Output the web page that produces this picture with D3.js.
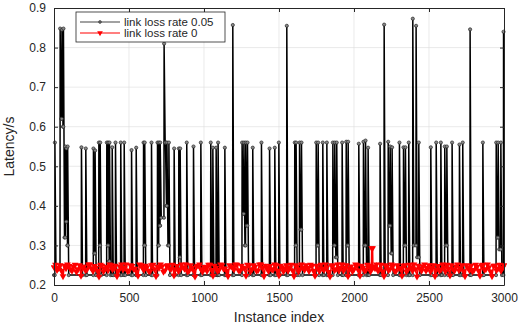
<!DOCTYPE html>
<html>
<head>
<meta charset="utf-8">
<script src="https://cdn.jsdelivr.net/npm/d3@7"></script>
<style>
  body { margin: 0; background: #fff; }
  text { font-family: "Liberation Sans", Arial, sans-serif; fill: #262626; }
</style>
</head>
<body>
<div id="chart"></div>
<script>
// black series: spikes (instance index, peak latency, value it falls back to)
const blackAt = [
  5, 40, 52, 62, 75, 82, 90, 182, 211, 262, 273, 298, 307, 351, 360, 369, 387, 409, 444, 467,
  516, 547, 596, 604, 649, 689, 698, 707, 733, 742, 752, 765, 800, 831, 840, 884, 929, 978,
  1044, 1058, 1080, 1093, 1138, 1191, 1253, 1265, 1277, 1289, 1324, 1382, 1436, 1471, 1498,
  1551, 1604, 1613, 1636, 1649, 1747, 1760, 1791, 1818, 1858, 1871, 1884, 1920, 1947, 1960,
  2031, 2062, 2076, 2093, 2173, 2200, 2227, 2240, 2253, 2302, 2329, 2342, 2364, 2391, 2413, 2431,
  2511, 2547, 2578, 2604, 2618, 2653, 2702, 2724, 2773, 2858, 2947, 2960, 2978, 2996
];
const blackPeak = [
  0.56, 0.848, 0.845, 0.848, 0.55, 0.545, 0.55, 0.548, 0.545, 0.545, 0.54, 0.56, 0.56, 0.56, 0.56, 0.56, 0.548, 0.56, 0.56, 0.56,
  0.541, 0.547, 0.56, 0.56, 0.56, 0.56, 0.56, 0.56, 0.81, 0.56, 0.56, 0.56, 0.545, 0.545, 0.545, 0.56, 0.55, 0.56,
  0.56, 0.547, 0.547, 0.56, 0.547, 0.857, 0.56, 0.56, 0.56, 0.56, 0.547, 0.56, 0.545, 0.547, 0.56,
  0.855, 0.56, 0.56, 0.56, 0.56, 0.56, 0.56, 0.56, 0.56, 0.56, 0.56, 0.56, 0.56, 0.562, 0.562,
  0.557, 0.562, 0.565, 0.547, 0.557, 0.858, 0.562, 0.55, 0.548, 0.56, 0.548, 0.548, 0.56, 0.873, 0.855, 0.56,
  0.548, 0.56, 0.56, 0.55, 0.55, 0.56, 0.555, 0.56, 0.846, 0.56, 0.56, 0.56, 0.56, 0.84
];
const blackLow = [
  0.24, 0.62, 0.6, 0.32, 0.36, 0.3, 0.225, 0.225, 0.225, 0.28, 0.225, 0.3, 0.225, 0.3, 0.26, 0.225, 0.225, 0.225, 0.225, 0.225,
  0.225, 0.225, 0.3, 0.225, 0.225, 0.3, 0.35, 0.37, 0.56, 0.4, 0.3, 0.225, 0.225, 0.27, 0.225, 0.225, 0.225, 0.225,
  0.225, 0.225, 0.225, 0.225, 0.225, 0.225, 0.38, 0.3, 0.35, 0.225, 0.225, 0.225, 0.225, 0.225, 0.225,
  0.225, 0.3, 0.225, 0.34, 0.225, 0.3, 0.225, 0.225, 0.225, 0.3, 0.27, 0.225, 0.225, 0.3, 0.225,
  0.225, 0.3, 0.225, 0.225, 0.225, 0.225, 0.35, 0.28, 0.225, 0.225, 0.3, 0.225, 0.225, 0.3, 0.27, 0.225,
  0.225, 0.225, 0.225, 0.3, 0.225, 0.225, 0.225, 0.225, 0.225, 0.225, 0.32, 0.29, 0.225, 0.84
];

// red series: values at instances 0, 20, 40 ... and at 10, 30, 50 ...
const redStep = 20;
const redVals = [
  0.245, 0.238, 0.25, 0.222, 0.242, 0.248, 0.236, 0.251, 0.24, 0.223, 0.247, 0.239, 0.252, 0.235, 0.244, 0.221, 0.249, 0.241, 0.237, 0.25,
  0.243, 0.222, 0.246, 0.239, 0.252, 0.236, 0.248, 0.241, 0.223, 0.25, 0.238, 0.245, 0.234, 0.251, 0.222, 0.243, 0.247, 0.237, 0.25, 0.24,
  0.224, 0.248, 0.239, 0.245, 0.252, 0.236, 0.243, 0.221, 0.249, 0.24, 0.246, 0.235, 0.251, 0.223, 0.244, 0.238, 0.25, 0.242, 0.222, 0.247,
  0.239, 0.251, 0.236, 0.244, 0.223, 0.249, 0.24, 0.246, 0.237, 0.252, 0.222, 0.243, 0.248, 0.238, 0.25, 0.224, 0.245, 0.241, 0.236, 0.251,
  0.222, 0.247, 0.24, 0.244, 0.25, 0.235, 0.248, 0.223, 0.242, 0.251, 0.238, 0.245, 0.221, 0.249, 0.24, 0.236, 0.252, 0.243, 0.222, 0.247,
  0.24, 0.25, 0.223, 0.244, 0.238, 0.248, 0.244, 0.242, 0.236, 0.251, 0.222, 0.246, 0.24, 0.249, 0.235, 0.243, 0.223, 0.25, 0.239, 0.245,
  0.252, 0.221, 0.241, 0.247, 0.236, 0.25, 0.243, 0.222, 0.248, 0.239, 0.245, 0.251, 0.224, 0.24, 0.247, 0.237, 0.25, 0.222, 0.244, 0.249,
  0.238, 0.246, 0.223, 0.251, 0.24, 0.245, 0.222, 0.249, 0.242, 0.236, 0.25
];
const redValsMid = [
  0.251, 0.243, 0.236, 0.249, 0.252, 0.24, 0.246, 0.233, 0.25, 0.244, 0.237, 0.252, 0.242, 0.248, 0.236, 0.251, 0.234, 0.246, 0.252, 0.239,
  0.249, 0.236, 0.252, 0.244, 0.235, 0.25, 0.241, 0.234, 0.252, 0.243, 0.249, 0.236, 0.25, 0.24, 0.247, 0.252, 0.233, 0.249, 0.242, 0.251,
  0.24, 0.235, 0.252, 0.241, 0.234, 0.25, 0.237, 0.247, 0.252, 0.233, 0.244, 0.251, 0.238, 0.249, 0.235, 0.252, 0.241, 0.236, 0.25, 0.244,
  0.252, 0.237, 0.249, 0.242, 0.251, 0.234, 0.25, 0.236, 0.252, 0.243, 0.249, 0.235, 0.24, 0.252, 0.236, 0.249, 0.234, 0.25, 0.243, 0.237,
  0.25, 0.234, 0.252, 0.238, 0.243, 0.251, 0.236, 0.249, 0.235, 0.242, 0.252, 0.233, 0.25, 0.237, 0.252, 0.244, 0.236, 0.25, 0.241, 0.234,
  0.252, 0.237, 0.249, 0.236, 0.251, 0.234, 0.246, 0.252, 0.24, 0.234, 0.25, 0.237, 0.252, 0.236, 0.25, 0.241, 0.249, 0.234, 0.251, 0.236,
  0.24, 0.249, 0.236, 0.252, 0.243, 0.234, 0.25, 0.239, 0.236, 0.252, 0.234, 0.242, 0.25, 0.236, 0.252, 0.243, 0.235, 0.25, 0.237, 0.234,
  0.251, 0.236, 0.25, 0.238, 0.252, 0.234, 0.249, 0.237, 0.251, 0.243
];
const redSpike = [[2116, 0.246], [2118, 0.293], [2124, 0.293], [2126, 0.246]];

const xTicks = [0, 500, 1000, 1500, 2000, 2500, 3000];
const yTicks = [0.2, 0.3, 0.4, 0.5, 0.6, 0.7, 0.8, 0.9];
const seriesNames = ["link loss rate 0.05", "link loss rate 0"];

const W = 519, H = 327;
const margin = {top: 8, right: 15, bottom: 42, left: 54};
const iw = W - margin.left - margin.right, ih = H - margin.top - margin.bottom;

const svg = d3.select("#chart").append("svg").attr("width", W).attr("height", H);
const g = svg.append("g").attr("transform", `translate(${margin.left},${margin.top})`);

const x = d3.scaleLinear().domain([0, 3000]).range([0, iw]);
const y = d3.scaleLinear().domain([0.2, 0.9]).range([ih, 0]);

// grid
g.append("g").selectAll("line").data(xTicks.slice(1, -1)).enter().append("line")
  .attr("x1", d => x(d)).attr("x2", d => x(d)).attr("y1", 0).attr("y2", ih)
  .attr("stroke", "#dcdcdc").attr("stroke-width", 0.6);
g.append("g").selectAll("line").data(yTicks.slice(1, -1)).enter().append("line")
  .attr("y1", d => y(d)).attr("y2", d => y(d)).attr("x1", 0).attr("x2", iw)
  .attr("stroke", "#dcdcdc").attr("stroke-width", 0.6);

g.append("clipPath").attr("id", "clip").append("rect")
  .attr("x", -3).attr("y", -3).attr("width", iw + 6).attr("height", ih + 6);
const plot = g.append("g").attr("clip-path", "url(#clip)");

// build black series points from spike arrays
const black = [[0, 0.225]];
blackAt.forEach((a, i) => {
  const prev = i ? blackLow[i - 1] : 0.225;
  black.push([a, prev]);
  black.push([Math.min(a + 1, 3000), blackPeak[i]]);
  if (a + 8 <= 3000) black.push([a + 8, blackLow[i]]);
});

const red = redVals.map((v, i) => [i * redStep, v])
  .concat(redValsMid.map((v, i) => [i * redStep + redStep / 2, v]));
redSpike.forEach(p => red.push(p));
red.sort((a, b) => a[0] - b[0]);

const line = d3.line().x(d => x(d[0])).y(d => y(d[1]));

plot.append("path").datum(black).attr("d", line)
  .attr("fill", "none").attr("stroke", "#000").attr("stroke-width", 1.5);
plot.append("g").selectAll("circle").data(black).enter().append("circle")
  .attr("cx", d => x(d[0])).attr("cy", d => y(d[1])).attr("r", 1.6)
  .attr("fill", "#888").attr("stroke", "#222").attr("stroke-width", 0.7);

const tri = d3.symbol().type(d3.symbolTriangle).size(20);
plot.append("path").datum(red).attr("d", line)
  .attr("fill", "none").attr("stroke", "#ff0000").attr("stroke-width", 1.5);
plot.append("g").selectAll("path").data(red).enter().append("path")
  .attr("d", tri).attr("transform", d => `translate(${x(d[0])},${y(d[1])}) rotate(180)`)
  .attr("fill", "#ff0000");

// axes box with inward ticks on all sides
const axisColor = "#262626";
g.append("g").attr("transform", `translate(0,${ih})`)
  .call(d3.axisBottom(x).tickValues(xTicks).tickFormat(d3.format("d")).tickSizeInner(-4).tickSizeOuter(0).tickPadding(8))
  .call(a => a.selectAll("text").attr("font-size", 12))
  .call(a => a.selectAll("line,path").attr("stroke", axisColor));
g.append("g")
  .call(d3.axisLeft(y).tickValues(yTicks).tickFormat(d3.format(".1f")).tickSizeInner(-4).tickSizeOuter(0).tickPadding(8))
  .call(a => a.selectAll("text").attr("font-size", 12))
  .call(a => a.selectAll("line,path").attr("stroke", axisColor));
g.append("g")
  .call(d3.axisTop(x).tickValues(xTicks).tickSizeInner(-4).tickSizeOuter(0).tickFormat(""))
  .call(a => a.selectAll("line,path").attr("stroke", axisColor));
g.append("g").attr("transform", `translate(${iw},0)`)
  .call(d3.axisRight(y).tickValues(yTicks).tickSizeInner(-4).tickSizeOuter(0).tickFormat(""))
  .call(a => a.selectAll("line,path").attr("stroke", axisColor));

// axis titles
svg.append("text").attr("x", margin.left + iw / 2).attr("y", 322)
  .attr("text-anchor", "middle").attr("font-size", 14).text("Instance index");
svg.append("text").attr("transform", `translate(14,${margin.top + ih / 2}) rotate(-90)`)
  .attr("text-anchor", "middle").attr("font-size", 14).text("Latency/s");

// legend
const lg = svg.append("g").attr("transform", "translate(76,12)");
lg.append("rect").attr("width", 149).attr("height", 30)
  .attr("fill", "#fff").attr("stroke", axisColor).attr("stroke-width", 0.8);
const items = [
  {name: seriesNames[0], color: "#444", marker: "circle"},
  {name: seriesNames[1], color: "#ff0000", marker: "tri"}
];
items.forEach((it, i) => {
  const cy = 10 + i * 11;
  lg.append("line").attr("x1", 4).attr("x2", 44).attr("y1", cy).attr("y2", cy)
    .attr("stroke", it.color).attr("stroke-width", 1.1);
  if (it.marker === "circle") {
    lg.append("circle").attr("cx", 24).attr("cy", cy).attr("r", 1.4)
      .attr("fill", "#666").attr("stroke", "#333").attr("stroke-width", 0.6);
  } else {
    lg.append("path").attr("d", d3.symbol().type(d3.symbolTriangle).size(14))
      .attr("transform", `translate(24,${cy}) rotate(180)`).attr("fill", "#ff0000");
  }
  lg.append("text").attr("x", 48).attr("y", cy + 4).attr("font-size", 11.5).text(it.name);
});
</script>
</body>
</html>
